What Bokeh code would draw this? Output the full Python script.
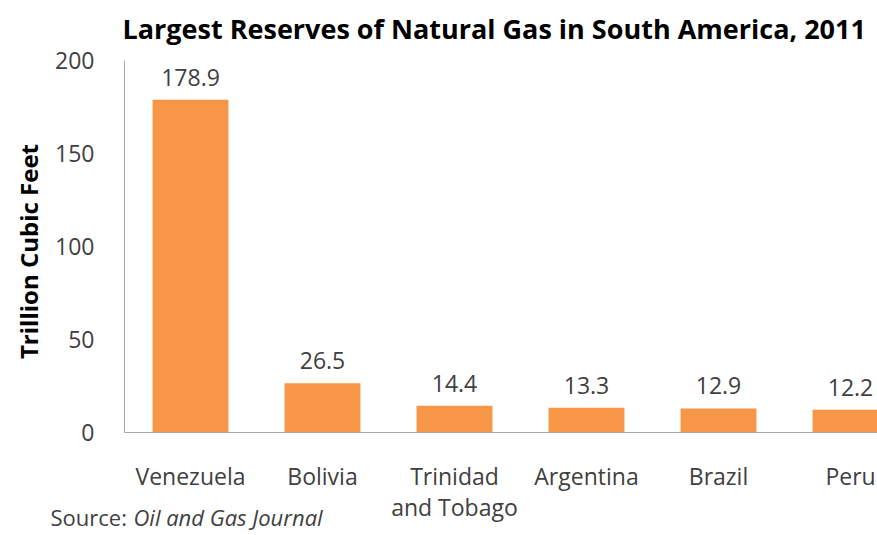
import math
from bokeh.plotting import figure
from bokeh.models import Range1d, FixedTicker, Label, ColumnDataSource
from bokeh.core.properties import value
from bokeh.embed import file_html
from bokeh.resources import INLINE

title_text = "Largest Reserves of Natural Gas in South America, 2011"
y_label = "Trillion Cubic Feet"
source_prefix = "Source:"
source_name = "Oil and Gas Journal"
countries = ["Venezuela", "Bolivia", "Trinidad\nand Tobago", "Argentina", "Brazil", "Peru"]
reserves = [178.9, 26.5, 14.4, 13.3, 12.9, 12.2]
y_ticks = [0, 50, 100, 150, 200]

FONT = "Open Sans"
TXT = "#404040"

xs = [i + 0.5 for i in range(len(countries))]
src = ColumnDataSource(dict(x=xs, top=reserves, lab=[f"{v:.1f}" for v in reserves]))

# frame covers the whole canvas; axes are pinned at data 0 (canvas x=124, y=432)
p = figure(width=877, height=535, output_backend="svg", toolbar_location=None,
           x_range=Range1d(-0.9394, 5.7045), y_range=Range1d(-55.4, 232.26),
           min_border_left=0, min_border_right=0, min_border_top=0, min_border_bottom=0)

p.outline_line_color = None
p.grid.visible = False
p.background_fill_color = "white"
p.border_fill_color = "white"

p.vbar(x="x", top="top", bottom=0, width=0.575, source=src, fill_color="#F79646", line_color=None)
p.text(x="x", y="top", text="lab", source=src, text_align="center", text_baseline="bottom",
       y_offset=-14, text_font=value(FONT), text_font_size="23px", text_color=TXT)

ya = p.yaxis[0]
ya.fixed_location = 0
ya.ticker = FixedTicker(ticks=y_ticks)
ya.bounds = (0, 200)
ya.major_tick_line_color = None
ya.minor_tick_line_color = None
ya.axis_line_color = "#A6A6A6"
ya.major_label_standoff = 24
ya.major_label_text_font = FONT
ya.major_label_text_font_size = "23px"
ya.major_label_text_color = TXT

xa = p.xaxis[0]
xa.fixed_location = 0
xa.ticker = FixedTicker(ticks=xs)
xa.bounds = (0, 5.7045)
xa.major_label_overrides = {x: c for x, c in zip(xs, countries)}
xa.major_tick_line_color = None
xa.minor_tick_line_color = None
xa.axis_line_color = "#A6A6A6"
xa.major_label_standoff = 22
xa.major_label_text_font = FONT
xa.major_label_text_font_size = "23px"
xa.major_label_text_line_height = 0.96
xa.major_label_text_color = TXT

p.add_layout(Label(x=122, y=507, x_units="screen", y_units="screen", text=title_text,
                   text_baseline="middle", text_font=FONT, text_font_size="27px",
                   text_font_style="bold", text_color="#000000"))
p.add_layout(Label(x=28, y=284, x_units="screen", y_units="screen", text=y_label,
                   angle=math.pi / 2, text_align="center", text_baseline="middle",
                   text_font=FONT, text_font_size="24px", text_font_style="bold",
                   text_color="#000000"))
p.add_layout(Label(x=50, y=4, x_units="screen", y_units="screen", text=source_prefix,
                   text_baseline="bottom",
                   text_font=FONT, text_font_size="22px", text_color=TXT))
p.add_layout(Label(x=133, y=4, x_units="screen", y_units="screen", text=source_name,
                   text_baseline="bottom",
                   text_font=FONT, text_font_size="22px", text_font_style="italic",
                   text_color=TXT))

open("out.html", "w").write(file_html(p, INLINE))
